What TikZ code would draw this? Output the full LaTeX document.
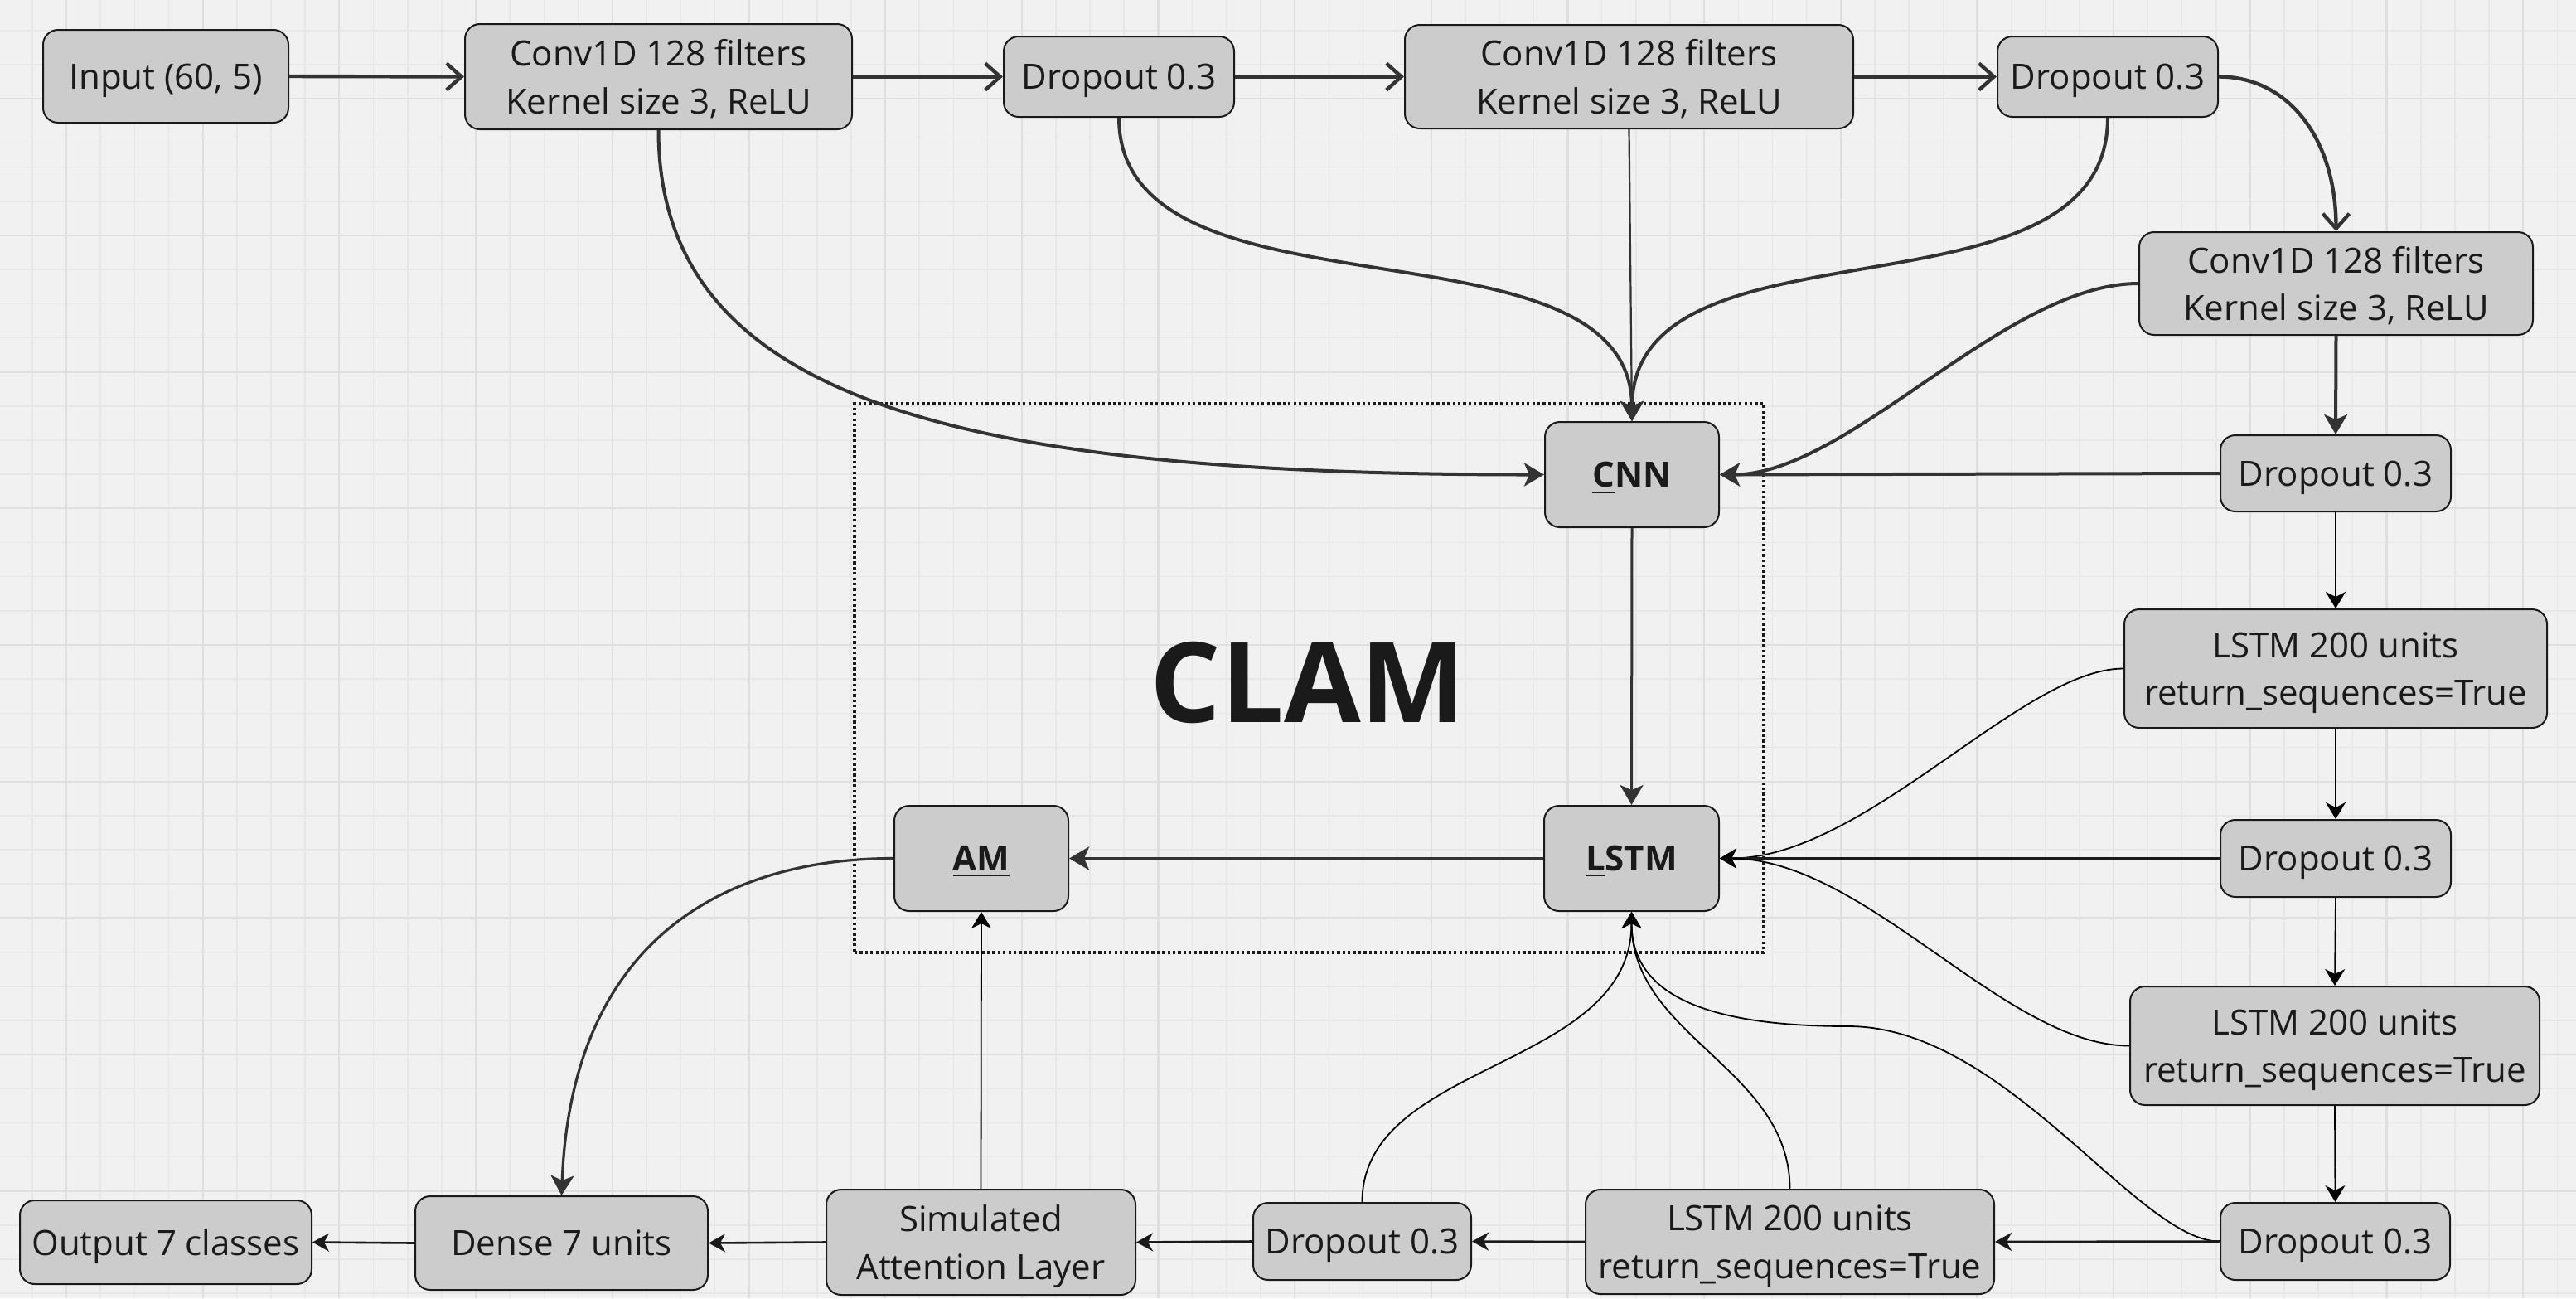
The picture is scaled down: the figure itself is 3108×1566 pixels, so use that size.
\documentclass[tikz,border=0pt]{standalone}
\usepackage{fontspec}
\setmainfont{Open Sans}
\usetikzlibrary{arrows.meta}
\definecolor{bg}{HTML}{F1F1F1}
\definecolor{gminor}{HTML}{E7E7E7}
\definecolor{gmajor}{HTML}{DFDFDF}
\definecolor{boxfill}{HTML}{CCCCCC}
\definecolor{ink}{HTML}{1A1A1A}
\definecolor{wire}{HTML}{333333}
\tikzset{
  sz/.style 2 args={minimum width={#1*0.25pt}, minimum height={#2*0.25pt}},
  box/.style={draw=ink, line width=0.5pt, fill=boxfill, rounded corners=4.5pt,
    inner sep=0pt, align=center, text=ink, text depth=0pt, font=\fontsize{10.5}{14.3}\selectfont},
  boldbox/.style={box, font=\fontsize{10.5}{14.3}\selectfont\bfseries},
  barb/.style={draw=wire, line width=1.1pt, -{Straight Barb[length=4.5pt,width=8pt]}},
  heavy/.style={draw=wire, line width=1pt, -{Stealth[length=6pt,width=7pt,inset=1.5pt]}},
  mid/.style={draw=ink, line width=0.65pt, -{Stealth[length=5pt,width=5.5pt,inset=1.5pt]}},
  thin/.style={draw=black, line width=0.45pt, -{Stealth[length=5pt,width=6pt,inset=1.5pt]}},
}
\begin{document}
\begin{tikzpicture}[x=0.25pt,y=-0.25pt]
% background and grid
\fill[bg] (0,0) rectangle (3108,1566);
\useasboundingbox (0,0) rectangle (3108,1566);
\foreach \k in {-1,...,73} \draw[gminor, line width=0.4pt] ({80+41.17*\k},0) -- ({80+41.17*\k},1566);
\foreach \k in {-2,...,35} \draw[gminor, line width=0.4pt] (0,{119.3+41.17*\k}) -- (3108,{119.3+41.17*\k});
\foreach \k in {0,4,...,72} \draw[gmajor, line width=0.55pt] ({80+41.17*\k},0) -- ({80+41.17*\k},1566);
\foreach \k in {0,4,...,32} \draw[gmajor, line width=0.55pt] (0,{119.3+41.17*\k}) -- (3108,{119.3+41.17*\k});

% CLAM frame and title
\node[draw=ink, line width=0.8pt, dash pattern=on 0.8pt off 0.8pt, sz={1097}{662}, inner sep=0pt] (clambox) at (1579.5,818) {};
\node[text=ink, font=\fontsize{33.6}{40}\selectfont\bfseries] (clam) at (1578,823) {CLAM};

% nodes
\node[box, sz={296}{112}] (inp) at (200,92) {Input (60, 5)};
\node[box, sz={467}{127}] (conv1) at (794.5,92.5) {Conv1D 128 filters\\Kernel size 3, ReLU};
\node[box, sz={278}{97}] (drop1) at (1350,92.5) {Dropout 0.3};
\node[box, sz={541}{125}] (conv2) at (1965.5,92.5) {Conv1D 128 filters\\Kernel size 3, ReLU};
\node[box, sz={266}{97}] (drop2) at (2543,92.5) {Dropout 0.3};
\node[box, sz={475}{124}] (conv3) at (2818.5,342) {Conv1D 128 filters\\Kernel size 3, ReLU};
\node[box, sz={278}{92}] (drop3) at (2818,571) {Dropout 0.3};
\node[boldbox, sz={210}{127}] (cnn) at (1969,572.5) {\underline{C}NN};
\node[box, sz={510}{143}] (lstm1) at (2818,806.5) {LSTM 200 units\\return\_sequences=True};
\node[box, sz={278}{93}] (drop4) at (2818,1035.5) {Dropout 0.3};
\node[boldbox, sz={211}{127}] (lstm) at (1968.5,1035.5) {\underline{L}STM};
\node[boldbox, sz={210}{127}] (am) at (1184,1035.5) {\underline{AM}};
\node[box, sz={494}{143}] (lstm2) at (2817,1261.5) {LSTM 200 units\\return\_sequences=True};
\node[box, sz={277}{93}] (drop5) at (2817.5,1497.5) {Dropout 0.3};
\node[box, sz={493}{126}] (lstm3) at (2159.5,1498) {LSTM 200 units\\return\_sequences=True};
\node[box, sz={263}{93}] (drop6) at (1643.5,1497.5) {Dropout 0.3};
\node[box, sz={373}{127}] (sim) at (1183.5,1498.5) {Simulated\\Attention Layer};
\node[box, sz={353}{113}] (dense) at (677.5,1499.5) {Dense 7 units};
\node[box, sz={352}{101}] (out) at (200,1498.5) {Output 7 classes};

\coordinate (m21) at (2230,1238);

% top chain
\draw[barb] (inp.east) -- (conv1.west);
\draw[barb] (conv1.east) -- (drop1.west);
\draw[barb] (drop1.east) -- (conv2.west);
\draw[barb] (conv2.east) -- (drop2.west);
\draw[barb] (drop2.east) .. controls +(85,0) and +(0,-110) .. (conv3.north);
\draw[heavy] (conv3.south) -- (drop3.north);

% into CNN
\draw[heavy] (conv1.south) .. controls +(0,324) and +(-714,0) .. (cnn.west);
\draw[heavy] (drop1.south) .. controls +(0,259) and +(0,-259) .. (cnn.north);
\draw[heavy, line width=0.55pt] (conv2.south) -- (cnn.north);
\draw[heavy] (drop2.south) .. controls +(0,259) and +(0,-259) .. (cnn.north);
\draw[heavy] (conv3.west) .. controls +(-161,0) and +(156,0) .. (cnn.east);
\draw[heavy] (drop3.west) -- (cnn.east);
\draw[heavy, line width=0.75pt] (cnn.south) -- (lstm.north);

% right column
\draw[thin] (drop3.south) -- (lstm1.north);
\draw[thin] (lstm1.south) -- (drop4.north);
\draw[thin] (drop4.south) -- (lstm2.north);
\draw[thin] (lstm2.south) -- (drop5.north);

% into LSTM
\draw[thin] (lstm1.west) .. controls +(-123,0) and +(176,0) .. (lstm.east);
\draw[mid, line width=0.6pt] (drop4.west) -- (lstm.east);
\draw[thin] (lstm2.west) .. controls +(-150,0) and +(176,0) .. (lstm.east);
\draw[thin] (drop5.west) .. controls +(-99,0) and +(190,0) .. (m21) .. controls +(-170,0) and +(0,101) .. (lstm.south);
\draw[thin] (lstm3.north) .. controls +(0,-145) and +(0,151) .. (lstm.south);
\draw[thin] (drop6.north) .. controls +(0,-171) and +(0,191) .. (lstm.south);

% bottom chain
\draw[mid] (drop5.west) -- (lstm3.east);
\draw[mid] (lstm3.west) -- (drop6.east);
\draw[mid] (drop6.west) -- (sim.east);
\draw[thin] (sim.north) -- (am.south);
\draw[heavy] (lstm.west) -- (am.east);
\draw[heavy, line width=0.8pt] (am.west) .. controls +(-199,0) and +(12.5,-313) .. (dense.north);
\draw[mid] (sim.west) -- (dense.east);
\draw[mid] (dense.west) -- (out.east);
\end{tikzpicture}
\end{document}
